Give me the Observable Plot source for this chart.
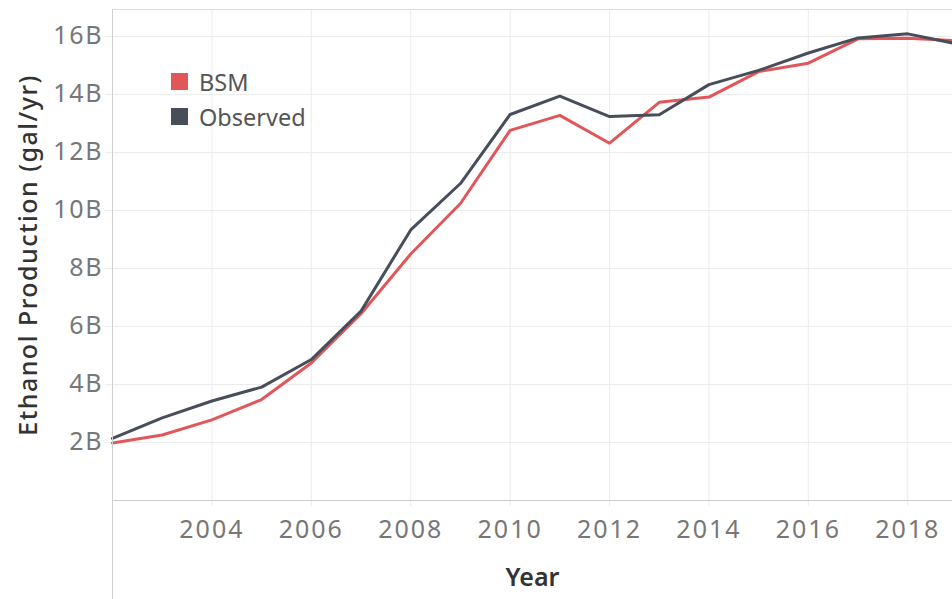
<!DOCTYPE html>
<html>
<head>
<meta charset="utf-8">
<script src="https://cdn.jsdelivr.net/npm/d3@7"></script>
<script src="https://cdn.jsdelivr.net/npm/@observablehq/plot@0.6"></script>
<style>
  html, body { margin: 0; padding: 0; background: #fff; overflow: hidden; }
  #wrap { position: relative; width: 952px; height: 599px; font-family: "Noto Sans", "Open Sans", sans-serif; }
  #frame { position: absolute; left: 112px; top: 9px; width: 845px; height: 595px;
           border-left: 1px solid #d0d0d0; border-top: 1px solid #dcdcdc; pointer-events: none; }
  #legend { position: absolute; left: 171px; top: 64px; font-size: 23.5px; color: #555; }
  .row { display: flex; align-items: center; height: 35px; }
  .sw { width: 17px; height: 17px; margin-right: 11px; }
</style>
</head>
<body>
<div id="wrap">
  <div id="chart"></div>
  <div id="frame"></div>
  <div id="legend"></div>
</div>
<script>
const years = [2002, 2003, 2004, 2005, 2006, 2007, 2008, 2009, 2010, 2011, 2012, 2013, 2014, 2015, 2016, 2017, 2018, 2019];
// billions of gallons per year
const bsm      = [1.98, 2.26, 2.78, 3.48, 4.74, 6.44, 8.50, 10.24, 12.76, 13.28, 12.32, 13.73, 13.91, 14.79, 15.08, 15.92, 15.94, 15.85];
const observed = [2.14, 2.85, 3.43, 3.91, 4.86, 6.53, 9.33, 10.93, 13.31, 13.94, 13.24, 13.30, 14.34, 14.83, 15.43, 15.95, 16.09, 15.74];
const seriesNames = ["BSM", "Observed"];
const seriesColors = ["#e15759", "#474e5a"];
const yTicks = [2, 4, 6, 8, 10, 12, 14, 16];
const xTicks = [2004, 2006, 2008, 2010, 2012, 2014, 2016, 2018];

const data = years.flatMap((yr, i) => [
  {year: yr, value: bsm[i] * 1e9, series: seriesNames[0]},
  {year: yr, value: observed[i] * 1e9, series: seriesNames[1]}
]);

const chart = Plot.plot({
  width: 952,
  height: 599,
  marginLeft: 112,
  marginTop: 9,
  marginBottom: 99,
  marginRight: 0,
  style: {fontFamily: '"Noto Sans", "Open Sans", sans-serif', background: "#fff", overflow: "hidden"},
  x: {domain: [2002, 2018.9]},
  y: {domain: [0, 16.93e9]},
  color: {domain: seriesNames, range: seriesColors},
  marks: [
    Plot.gridY(yTicks.map(d => d * 1e9), {stroke: "#ececec", strokeOpacity: 1}),
    Plot.gridX(xTicks, {stroke: "#ececec", strokeOpacity: 1}),
    Plot.axisY(yTicks.map(d => d * 1e9), {
      tickSize: 7, tickPadding: 2.5, stroke: "#ececec", fill: "#777", fontSize: 25,
      tickFormat: d => (d / 1e9) + "B", label: null
    }),
    Plot.axisX(xTicks, {
      tickSize: 6, tickPadding: 14, stroke: "#ececec", fill: "#777", fontSize: 25,
      tickFormat: d => String(d), label: null
    }),
    Plot.ruleY([0], {stroke: "#cccccc"}),
    Plot.line(data, {x: "year", y: "value", z: "series", stroke: "series", strokeWidth: 3, curve: "linear"}),
    Plot.text(["Ethanol Production (gal/yr)"], {
      frameAnchor: "left", textAnchor: "middle", rotate: -90, dx: -84, fontSize: 25, fill: "#333", fontWeight: 500
    }),
    Plot.text(["Year"], {frameAnchor: "bottom", dy: 85, fontSize: 25, fill: "#333", fontWeight: 600})
  ]
});
chart.querySelectorAll('g[aria-label="x-axis tick label"] text').forEach(t => t.style.letterSpacing = "2px");
chart.querySelectorAll('g[aria-label="y-axis tick label"] text').forEach(t => t.style.letterSpacing = "1.6px");
chart.querySelectorAll('g[aria-label="text"] text').forEach(t => {
  if (t.textContent.startsWith("Ethanol")) t.style.letterSpacing = "1.5px";
});
document.getElementById("chart").appendChild(chart);

const legend = document.getElementById("legend");
seriesNames.forEach((name, i) => {
  const row = document.createElement("div");
  row.className = "row";
  const sw = document.createElement("div");
  sw.className = "sw";
  sw.style.background = seriesColors[i];
  const label = document.createElement("span");
  label.textContent = name;
  row.appendChild(sw);
  row.appendChild(label);
  legend.appendChild(row);
});
</script>
</body>
</html>
